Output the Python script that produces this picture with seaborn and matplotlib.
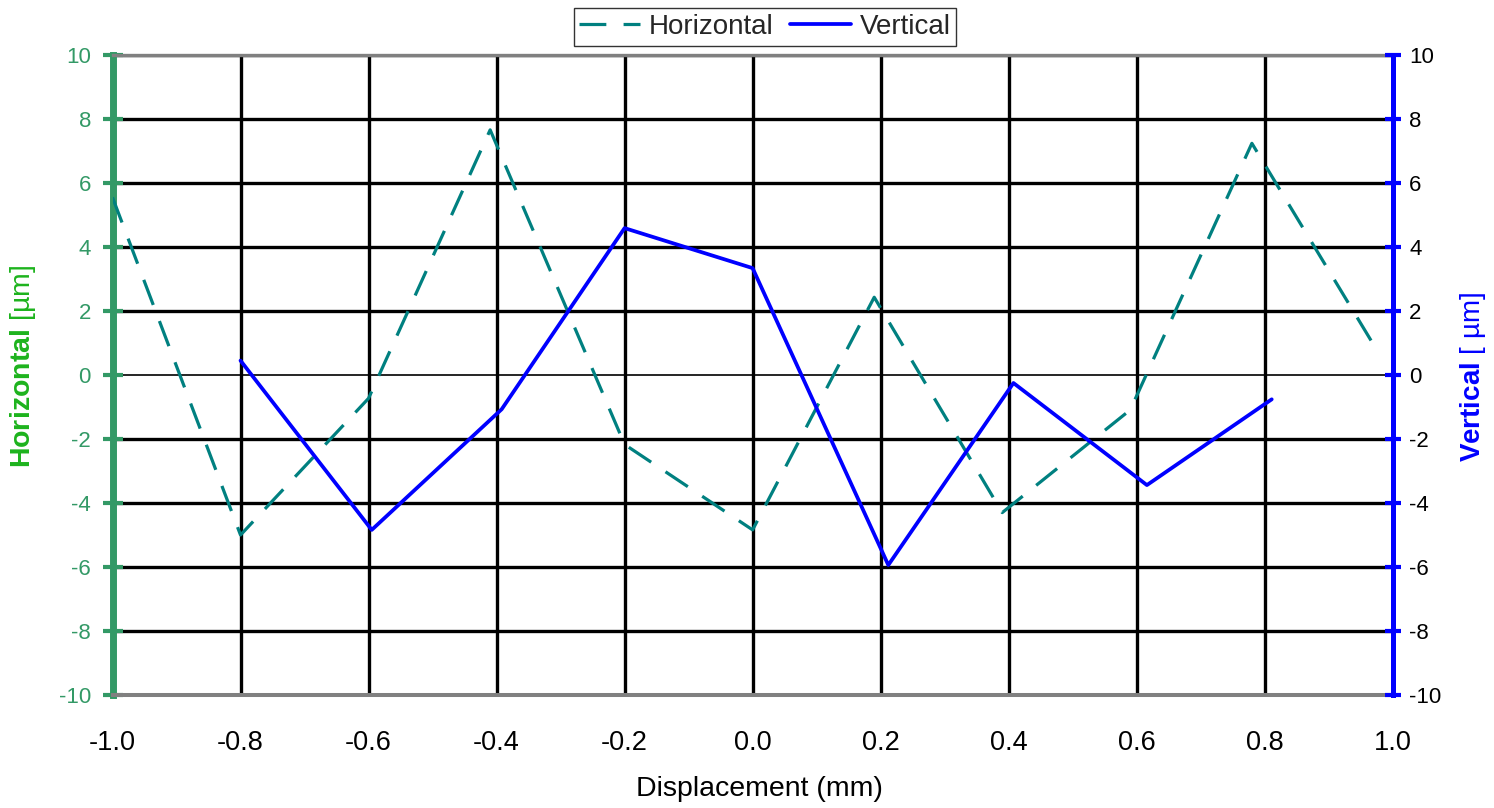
import matplotlib
matplotlib.use("Agg")
import matplotlib.pyplot as plt
import seaborn as sns
import pandas as pd
import numpy as np

# ---- data ----
horiz_x = [-1.0, -0.8, -0.6, -0.41, -0.2, 0.0, 0.19, 0.39, 0.59, 0.78, 0.98]
horiz_y = [5.55, -5.0, -0.73, 7.66, -2.17, -4.84, 2.43, -4.3, -1.09, 7.24, 0.62]
vert_x = [-0.8, -0.595, -0.392, -0.2, 0.0, 0.212, 0.4075, 0.616, 0.811]
vert_y = [0.45, -4.84, -1.07, 4.59, 3.34, -5.94, -0.25, -3.44, -0.76]
x_ticks = [-1.0, -0.8, -0.6, -0.4, -0.2, 0.0, 0.2, 0.4, 0.6, 0.8, 1.0]
y_ticks = [-10, -8, -6, -4, -2, 0, 2, 4, 6, 8, 10]

sns.set_style("white")
plt.rcParams['font.family'] = ['Liberation Sans', 'DejaVu Sans']
plt.rcParams['mathtext.fontset'] = 'custom'
plt.rcParams['mathtext.rm'] = 'Liberation Sans'
plt.rcParams['mathtext.bf'] = 'Liberation Sans:bold'

TEAL = '#008080'
BLUE = '#0000ff'
SPINE_GREEN = '#339966'
LABEL_GREEN = '#1db31d'

df_h = pd.DataFrame({'x': horiz_x, 'y': horiz_y})
df_v = pd.DataFrame({'x': vert_x, 'y': vert_y})

fig = plt.figure(figsize=(14.94, 8.08), dpi=100)
ax = fig.add_axes([112.5 / 1494, 1 - 695 / 808, 1280.2 / 1494, 640 / 808])
ax2 = ax.twinx()

sns.lineplot(data=df_h, x='x', y='y', ax=ax, color=TEAL, lw=2.3,
             linestyle=(0, (8.4, 5.4)), sort=False, estimator=None,
             label='Horizontal', legend=False, zorder=3)
sns.lineplot(data=df_v, x='x', y='y', ax=ax2, color=BLUE, lw=2.7,
             sort=False, estimator=None, label='Vertical', legend=False, zorder=3)

for a in (ax, ax2):
    a.set_xlim(-1.0, 1.0)
    a.set_ylim(-10, 10)
    a.set_yticks(y_ticks)

ax.set_xticks(x_ticks)
ax.set_xticklabels([f"{v:.1f}" for v in x_ticks])
ax.set_yticklabels([str(v) for v in y_ticks])
ax2.set_yticklabels([str(v) for v in y_ticks])

# grid
ax.grid(True, color='black', lw=2.4, zorder=0)
ax.set_axisbelow(True)
for gl, v in zip(ax.get_ygridlines(), y_ticks):
    if v == 0:
        gl.set_linewidth(1.2)

# spines
ax.spines['left'].set_color(SPINE_GREEN)
ax.spines['left'].set_linewidth(5)
ax.spines['right'].set_visible(False)
ax.spines['top'].set_color('#808080')
ax.spines['top'].set_linewidth(2.4)
ax.spines['bottom'].set_color('#808080')
ax.spines['bottom'].set_linewidth(2.9)
for s in ('left', 'top', 'bottom'):
    ax2.spines[s].set_visible(False)
ax2.spines['right'].set_color(BLUE)
ax2.spines['right'].set_linewidth(3.6)

# ticks
ax.tick_params(axis='x', length=0, pad=25, labelsize=19.5, colors='black')
ax.tick_params(axis='y', direction='inout', length=14, width=3, pad=8.5,
               labelsize=16, color=SPINE_GREEN, labelcolor=SPINE_GREEN)
ax2.tick_params(axis='y', direction='inout', length=11, width=3, pad=6.5,
                labelsize=16, color=BLUE, labelcolor='black')

# axis labels
ax.set_xlabel('Displacement (mm)', fontsize=20.5, color='black')
ax.xaxis.set_label_coords(0.505, -0.147)
ax.xaxis.label.set_verticalalignment('center')

ax.set_ylabel(r'$\mathbf{Horizontal}$ [µm]', fontsize=20.5, color=LABEL_GREEN)
ax.yaxis.set_label_coords(-0.0699, 0.514)
ax.yaxis.label.set_verticalalignment('center')

ax2.set_ylabel(r'$\mathbf{Vertical}$ [ µm]', fontsize=20, color=BLUE, rotation=90)
ax2.yaxis.set_label_coords(1.0627, 0.497)
ax2.yaxis.label.set_verticalalignment('center')

# legend
h1, l1 = ax.get_legend_handles_labels()
h2, l2 = ax2.get_legend_handles_labels()
leg = fig.legend(h1 + h2, l1 + l2, loc='center', bbox_to_anchor=(765 / 1494, 1 - 27 / 808),
                 ncol=2, fontsize=20, frameon=True, fancybox=False, handlelength=2.2,
                 handletextpad=0.3, columnspacing=0.6, borderpad=0.2, borderaxespad=0)
leg.get_frame().set_edgecolor('black')
leg.get_frame().set_linewidth(1.0)

fig.savefig('out.png', dpi=100)
